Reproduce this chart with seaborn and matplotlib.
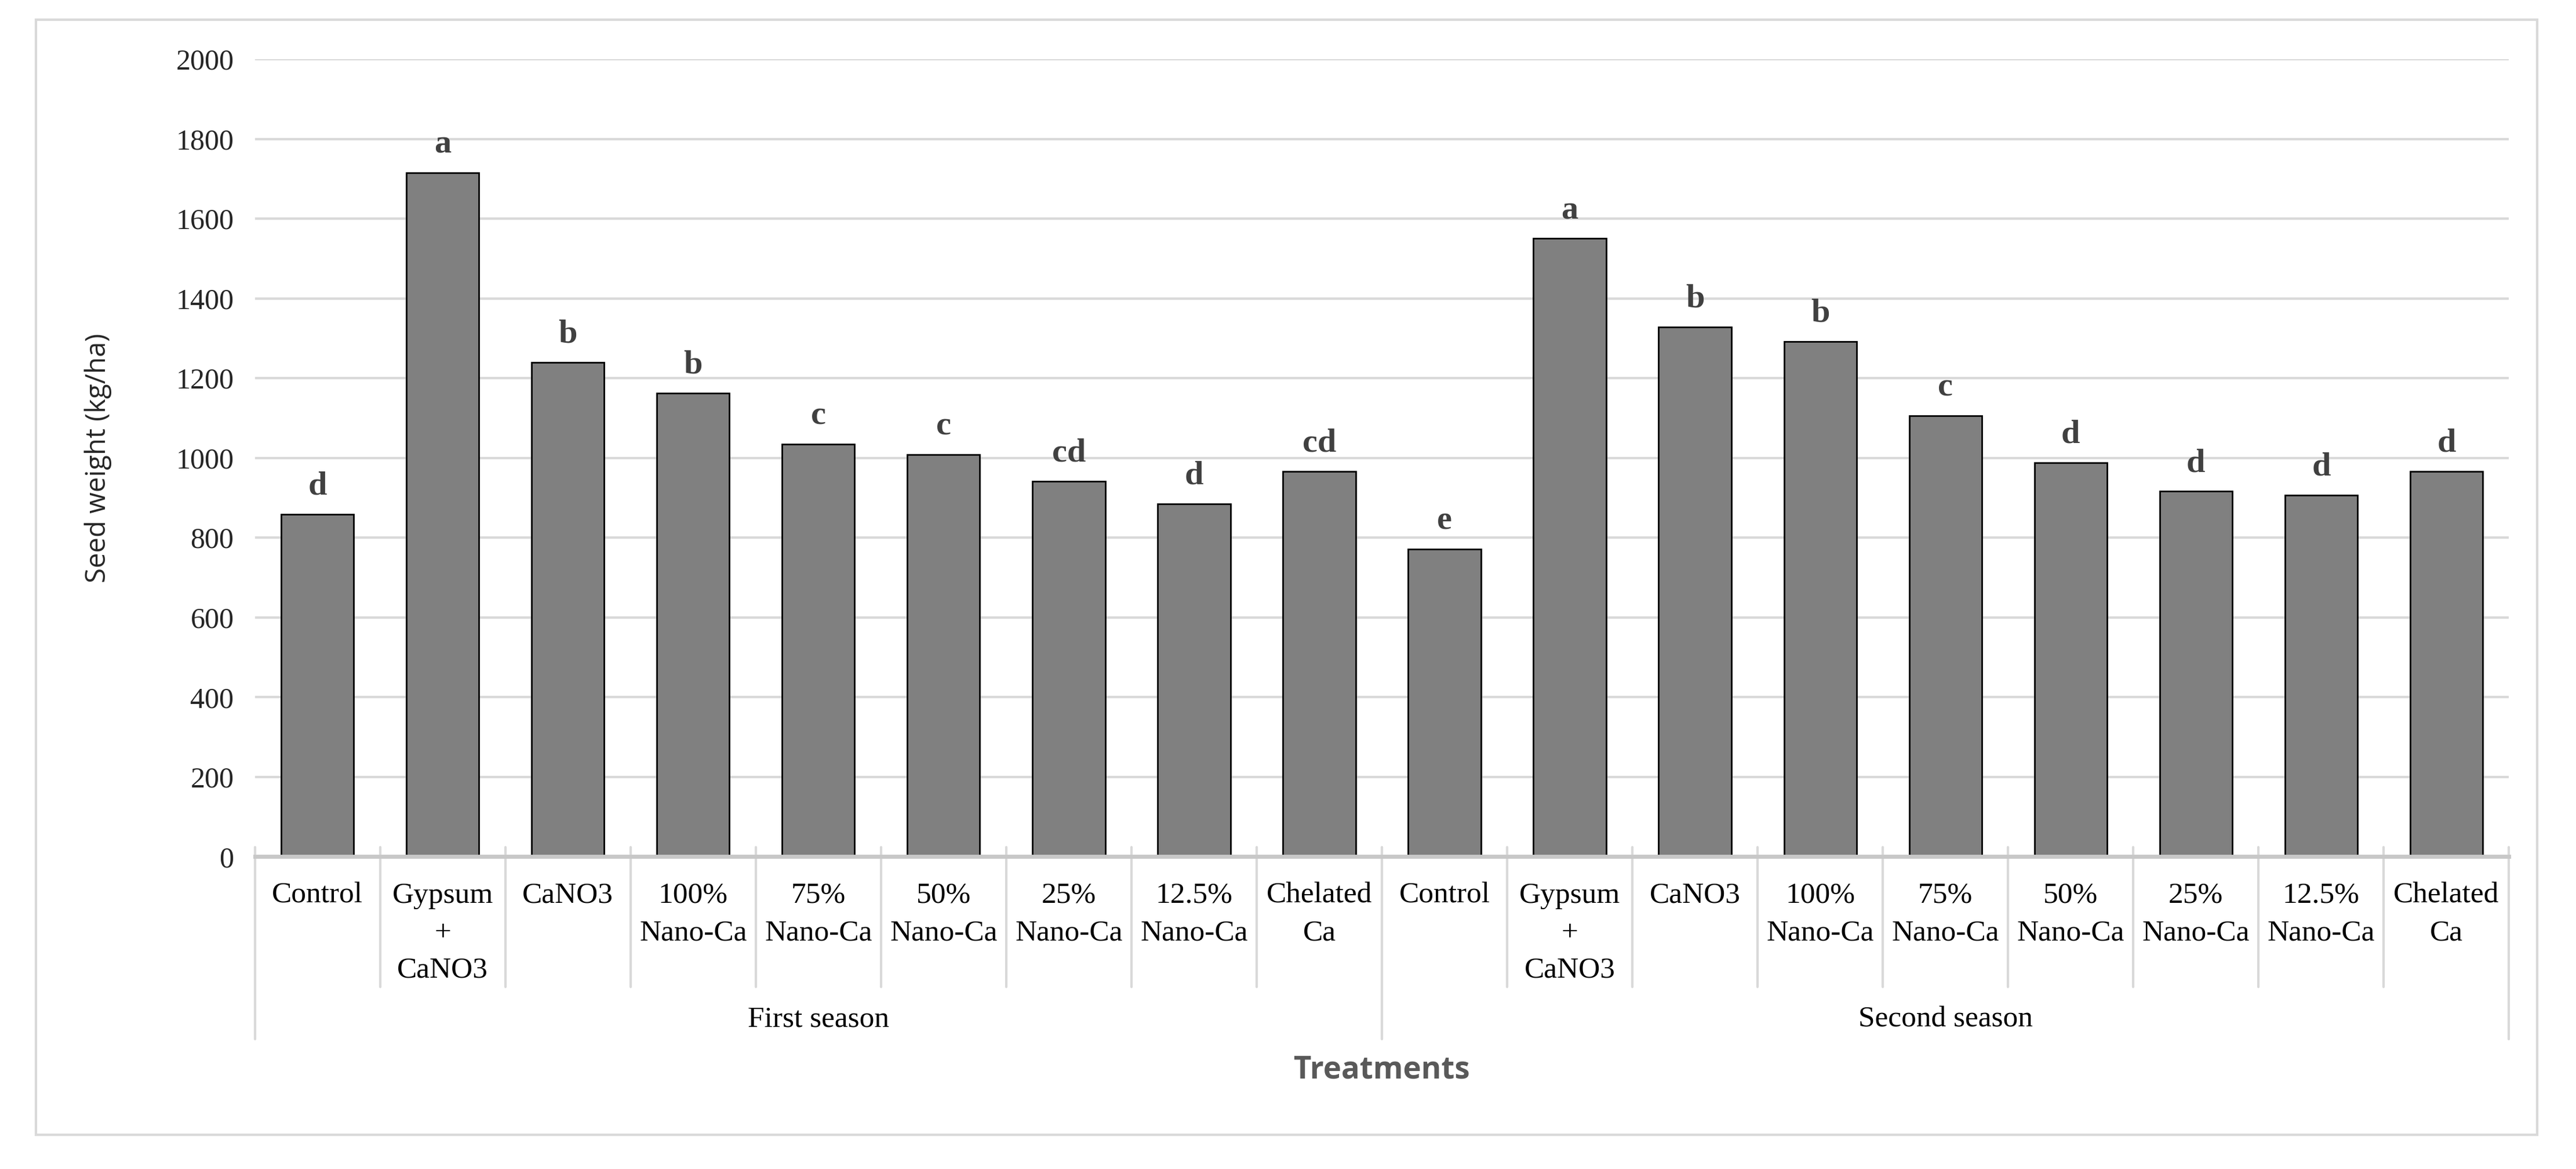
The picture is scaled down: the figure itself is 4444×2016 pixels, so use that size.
import pandas as pd
import numpy as np
import matplotlib.pyplot as plt
import matplotlib.transforms as mtransforms
from matplotlib.patches import Rectangle
import seaborn as sns

# Data
seasons = ['First season', 'Second season']
treatments = ['Control', 'Gypsum\n+\nCaNO3', 'CaNO3', '100%\nNano-Ca', '75%\nNano-Ca',
              '50%\nNano-Ca', '25%\nNano-Ca', '12.5%\nNano-Ca', 'Chelated\nCa']
first_season = [858, 1715, 1240, 1162, 1035, 1008, 942, 885, 966]
second_season = [771, 1550, 1328, 1292, 1106, 988, 916, 906, 966]
first_letters = ['d', 'a', 'b', 'b', 'c', 'c', 'cd', 'd', 'cd']
second_letters = ['e', 'a', 'b', 'b', 'c', 'd', 'd', 'd', 'd']
y_ticks = [0, 200, 400, 600, 800, 1000, 1200, 1400, 1600, 1800, 2000]

df = pd.DataFrame({
    'season': np.repeat(seasons, len(treatments)),
    'treatment': treatments * 2,
    'weight': first_season + second_season,
    'letter': first_letters + second_letters,
})
df['key'] = df['season'] + '|' + df['treatment']

sns.set_theme(style='white')
serif = ['Liberation Serif', 'DejaVu Serif']
sans = ['Open Sans', 'DejaVu Sans']

fig = plt.figure(figsize=(22.22, 10.08), dpi=200)
ax = fig.add_axes([0.0989, 0.2672, 0.8751, 0.6822])

# Outer chart border
fig.patches.append(Rectangle((0.014, 0.0295), 0.971, 0.9535, transform=fig.transFigure,
                             fill=False, edgecolor='#d9d9d9', linewidth=1.5))

sns.barplot(data=df, x='key', y='weight', order=list(df['key']), color='#808080',
            edgecolor='black', linewidth=1.0, width=0.58, saturation=1, ax=ax, zorder=3)

ax.set_ylim(0, 2000)
ax.set_xlim(-0.5, len(df) - 0.5)
ax.set_yticks(y_ticks)
ax.set_yticklabels([str(t) for t in y_ticks], fontfamily=serif, fontsize=18, color='#262626')
ax.tick_params(axis='y', length=0, pad=13)
ax.tick_params(axis='x', length=0)
ax.set_xticks([])
ax.set_xlabel('')
ax.yaxis.grid(True, color='#d9d9d9', linewidth=1.5, zorder=0)
for s in ['top', 'right', 'left']:
    ax.spines[s].set_visible(False)
ax.spines['bottom'].set_color('#c8c8c8')
ax.spines['bottom'].set_linewidth(2.5)
ax.spines['bottom'].set_zorder(4)

ax.set_ylabel('Seed weight (kg/ha)', fontfamily=sans, fontsize=17, color='#262626')
ax.yaxis.set_label_coords(-0.0634, 0.5)

# Significance letters
for i, row in df.iterrows():
    ax.text(i, row['weight'] + 50, row['letter'], ha='center', va='baseline',
            fontfamily=serif, fontsize=21, fontweight='bold', color='#404040')

# Hierarchical category axis
trans = mtransforms.blended_transform_factory(ax.transData, ax.transAxes)
for i, row in df.iterrows():
    ax.text(i, -0.032, row['treatment'], transform=trans, ha='center', va='top',
            fontfamily=serif, fontsize=18.5, color='black', linespacing=1.5, clip_on=False)

n = len(treatments)
for b in range(len(df) + 1):
    bottom = -0.229 if b % n == 0 else -0.163
    ax.plot([b - 0.5, b - 0.5], [0.012, bottom], transform=trans, color='#d9d9d9',
            linewidth=1.5, clip_on=False, zorder=2)

for k, s in enumerate(seasons):
    ax.text(k * n + (n - 1) / 2, -0.204, s, transform=trans, ha='center', va='center',
            fontfamily=serif, fontsize=18.5, color='black', clip_on=False)

ax.text(0.5, -0.268, 'Treatments', transform=ax.transAxes, ha='center', va='center',
        fontfamily=sans, fontsize=19, fontweight='bold', color='#595959')

fig.savefig('out.png', dpi=200, facecolor='white')
